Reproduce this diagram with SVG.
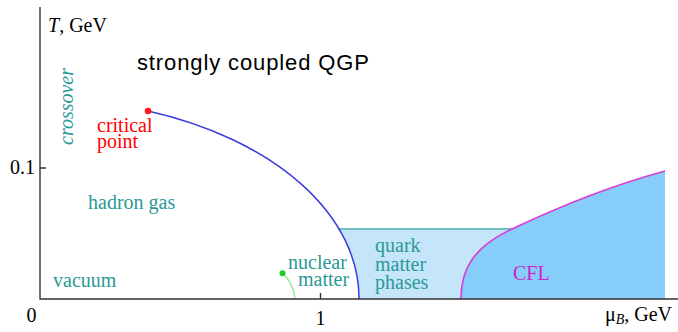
<svg xmlns="http://www.w3.org/2000/svg" width="678" height="332" viewBox="0 0 678 332">
<style>
.s{font-family:"Liberation Serif","Times New Roman",serif;font-size:20px}
.teal{fill:#2a9a96}
.axis{stroke:#333;stroke-width:1.4;fill:none}
</style>
<rect width="678" height="332" fill="#fff"/>
<g id="regions">
<path id="quark-region" d="M338.6,229 L512,229 C472,248 461,270 461,299 L359,299 A319,199 0 0 0 338.6,229 Z" fill="#c5e5fb"/>
<path id="cfl-region" d="M461,299 C461,270 472,248 512,229 C552,210 610,186 665,171 L665,299 Z" fill="#87cdfa"/>
</g>
<g id="connectors" fill="none">
<path d="M338.6,229 L512,229" stroke="#6cc0c0" stroke-width="2"/>
<path d="M148,111 A319,199 0 0 1 359,299" stroke="#3c3cdc" stroke-width="1.5"/>
<path d="M461,299 C461,270 472,248 512,229 C552,210 610,186 665,171" stroke="#d93ad9" stroke-width="1.6"/>
<path d="M282.5,273.3 C290,280 294,288 295,299" stroke="#99e699" stroke-width="1.5"/>
</g>
<g id="axes">
<path class="axis" d="M40,7 L40,299 L678,299"/>
<path class="axis" d="M40,168 L46,168 M320.5,293 L320.5,299"/>
<text class="s" x="48" y="32" font-size="21"><tspan font-style="italic">T</tspan>, GeV</text>
<text class="s" x="10" y="174">0.1</text>
<text class="s" x="26.5" y="322">0</text>
<text class="s" x="315.5" y="325">1</text>
<text class="s" x="605" y="321">μ<tspan font-style="italic" font-size="14" dy="3">B</tspan><tspan dy="-3">, GeV</tspan></text>
</g>
<g id="qgp"><text x="137" y="70" font-family="Liberation Sans, Arial, sans-serif" font-size="22" textLength="232" fill="#000">strongly coupled QGP</text></g>
<g id="crossover"><text class="s teal" font-style="italic" transform="translate(73,145) rotate(-90)">crossover</text></g>
<g id="critical-point">
<circle cx="148" cy="111" r="3.3" fill="#ff1a1a"/>
<text class="s" fill="#ff0000" x="97" y="132">critical</text>
<text class="s" fill="#ff0000" x="97" y="148">point</text>
</g>
<g id="hadron-gas"><text class="s teal" x="88" y="209">hadron gas</text></g>
<g id="vacuum"><text class="s teal" x="53" y="287">vacuum</text></g>
<g id="nuclear-matter">
<circle cx="282.5" cy="273.3" r="3" fill="#22cc22"/>
<text class="s teal" x="288" y="269">nuclear</text>
<text class="s teal" x="298" y="286">matter</text>
</g>
<g id="quark-matter">
<text class="s teal" x="375" y="251.5">quark</text>
<text class="s teal" x="375" y="270.5">matter</text>
<text class="s teal" x="375" y="289">phases</text>
</g>
<g id="cfl"><text class="s" fill="#cc22cc" x="513" y="280">CFL</text></g>
</svg>
